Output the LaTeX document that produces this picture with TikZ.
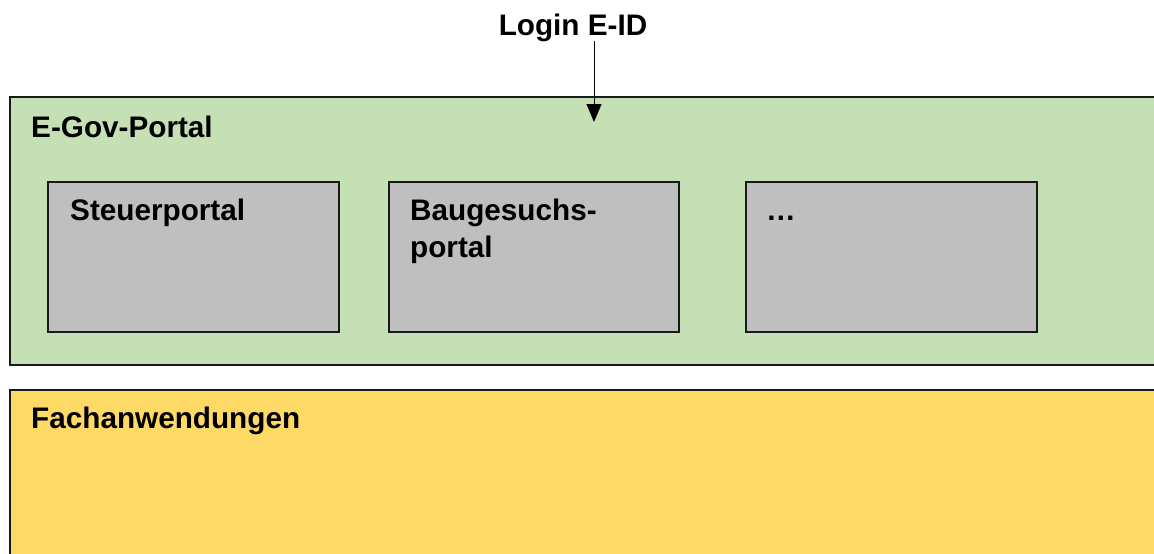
\documentclass[tikz,border=0pt]{standalone}
\usepackage{fontspec}
\setmainfont{Liberation Sans}
\usetikzlibrary{arrows.meta}
\definecolor{egreen}{HTML}{C5E0B4}
\definecolor{egray}{HTML}{BFBFBF}
\definecolor{eyellow}{HTML}{FFD966}
\begin{document}
\begin{tikzpicture}[x=1pt,y=-1pt,
  panel/.style={draw=black!90, line width=2pt, rectangle, inner sep=0pt, anchor=north west},
  lbl/.style={font=\fontsize{29.7}{37}\selectfont\bfseries, anchor=base west, inner sep=0pt, align=left},
  inarrow/.style={line width=1pt, -{Triangle[length=18pt,width=15pt]}}]
\useasboundingbox (0,0) rectangle (1154,554);
\clip (0,0) rectangle (1154,554);
% panels
\node[panel, fill=egreen, minimum width=1170pt, minimum height=268pt] (portal) at (9,96) {};
\node[panel, fill=eyellow, minimum width=1170pt, minimum height=200pt] (fach) at (9,389) {};
% sub portals
\node[panel, fill=egray, minimum width=291pt, minimum height=150pt] (steuer) at (47,181) {};
\node[panel, fill=egray, minimum width=290pt, minimum height=150pt] (bau) at (388,181) {};
\node[panel, fill=egray, minimum width=291pt, minimum height=150pt] (more) at (745,181) {};
% labels
\node[lbl] (portallbl) at (31,137) {E-Gov-Portal};
\node[lbl] (steuerlbl) at (70,220) {Steuerportal};
\node[lbl] (baulbl) at (410,257) {Baugesuchs-\\portal};
\node[lbl] (morelbl) at (766,220) {…};
\node[lbl] (fachlbl) at (31,428) {Fachanwendungen};
\node[lbl, anchor=base] (login) at (573,35) {Login E-ID};
% arrow
\coordinate (loginend) at (594,122);
\draw[inarrow] (login.south -| loginend) -- (loginend);
\end{tikzpicture}
\end{document}
